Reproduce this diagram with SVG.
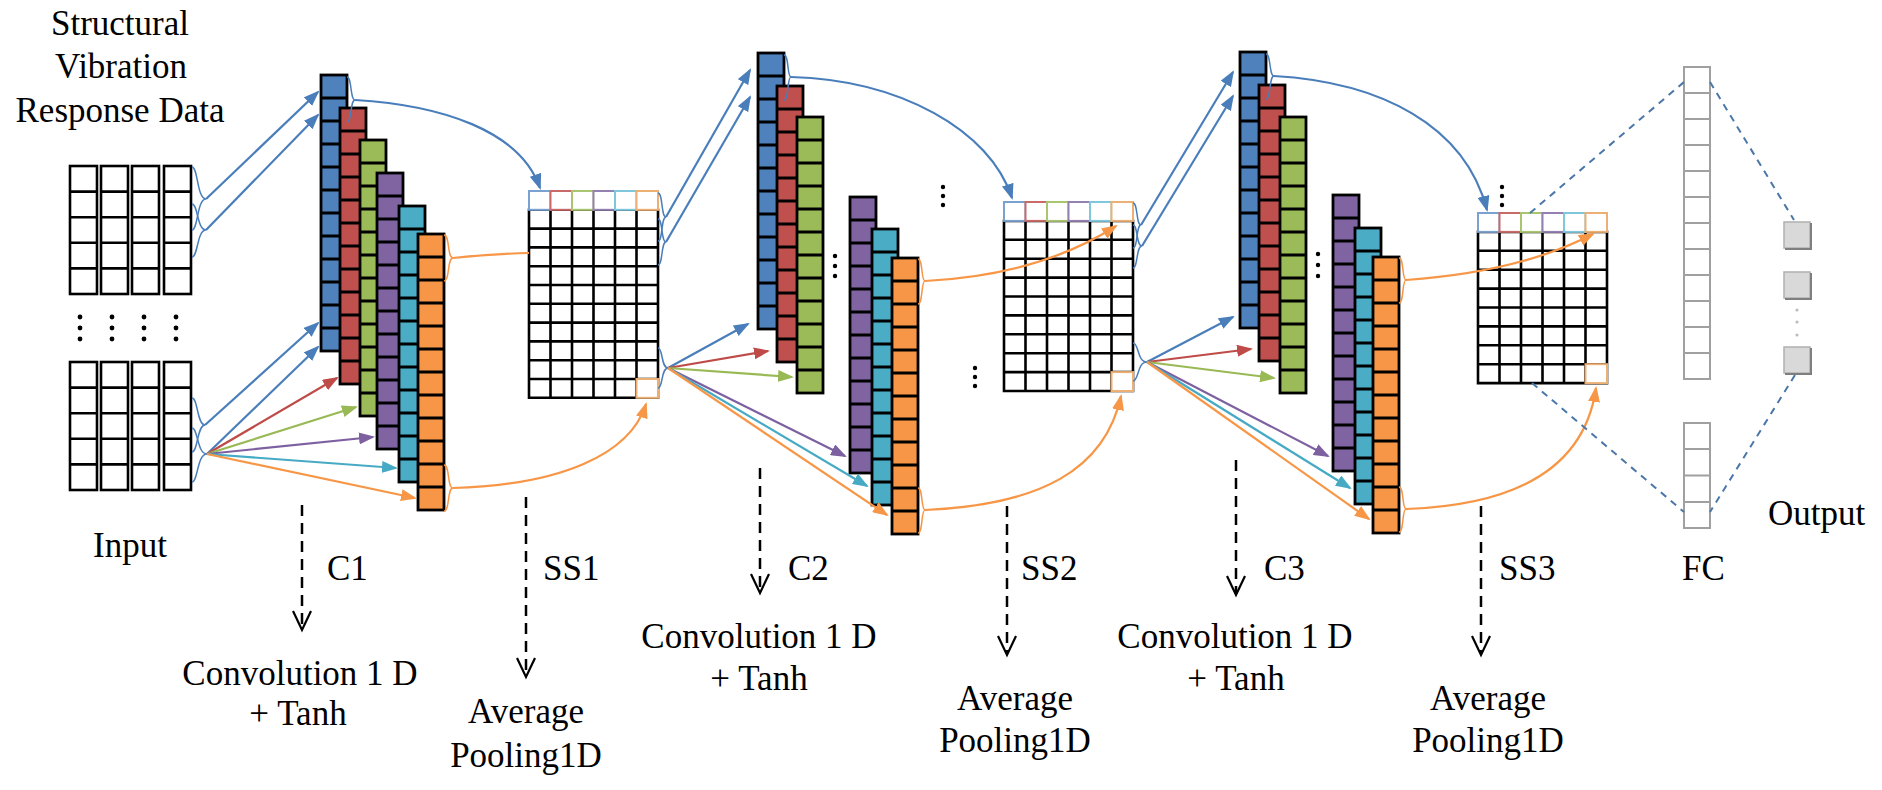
<svg xmlns="http://www.w3.org/2000/svg" xmlns:xlink="http://www.w3.org/1999/xlink" width="1882" height="790" viewBox="0 0 1882 790">
<style>
.t{font-family:"Liberation Serif","Times New Roman",serif;font-size:35px;fill:#000}
.m{text-anchor:middle}
.grid{fill:none;stroke:#000;stroke-width:2.6}
.cl{fill:none;stroke-width:2.2}
.br{fill:none;stroke-width:1.5}
.lb{stroke:#4A7EBB}.lr{stroke:#BE4B48}.lg{stroke:#98B954}.lp{stroke:#7D60A0}.lc{stroke:#46AAC5}.lo{stroke:#F79646}
.dl{fill:none;stroke:#000;stroke-width:2.5;stroke-dasharray:11 7}
.ah{fill:none;stroke:#000;stroke-width:2.2}
.fcd{fill:none;stroke:#4A77A8;stroke-width:2;stroke-dasharray:7 6}
.fc{fill:#fff;stroke:#A0A0A0;stroke-width:2}
.dot{fill:#000}
</style>
<defs>
<marker id="aB" markerWidth="16" markerHeight="12" refX="14" refY="6" orient="auto" markerUnits="userSpaceOnUse"><path d="M0,0 L16,6 L0,12 Z" fill="#4A7EBB"/></marker>
<marker id="aR" markerWidth="16" markerHeight="12" refX="14" refY="6" orient="auto" markerUnits="userSpaceOnUse"><path d="M0,0 L16,6 L0,12 Z" fill="#BE4B48"/></marker>
<marker id="aG" markerWidth="16" markerHeight="12" refX="14" refY="6" orient="auto" markerUnits="userSpaceOnUse"><path d="M0,0 L16,6 L0,12 Z" fill="#98B954"/></marker>
<marker id="aP" markerWidth="16" markerHeight="12" refX="14" refY="6" orient="auto" markerUnits="userSpaceOnUse"><path d="M0,0 L16,6 L0,12 Z" fill="#7D60A0"/></marker>
<marker id="aC" markerWidth="16" markerHeight="12" refX="14" refY="6" orient="auto" markerUnits="userSpaceOnUse"><path d="M0,0 L16,6 L0,12 Z" fill="#46AAC5"/></marker>
<marker id="aO" markerWidth="16" markerHeight="12" refX="14" refY="6" orient="auto" markerUnits="userSpaceOnUse"><path d="M0,0 L16,6 L0,12 Z" fill="#F79646"/></marker>
<g id="col" stroke="#000" stroke-width="2.8"><rect x="0" y="0" width="26" height="276"/><path fill="none" d="M0,23H26M0,46H26M0,69H26M0,92H26M0,115H26M0,138H26M0,161H26M0,184H26M0,207H26M0,230H26M0,253H26"/></g>
<g id="icol" stroke="#000" stroke-width="2.6"><rect x="0" y="0" width="27" height="128" fill="#fff"/><path fill="none" d="M0,25.6H27M0,51.2H27M0,76.8H27M0,102.4H27"/></g>
</defs>
<rect width="1882" height="790" fill="#fff"/>

<g id="title-text">
<text class="t m" x="120" y="35">Structural</text>
<text class="t m" x="121" y="78">Vibration</text>
<text class="t m" x="120" y="122">Response Data</text>
</g>

<g id="input">
<use href="#icol" x="70" y="166"/><use href="#icol" x="101" y="166"/><use href="#icol" x="132" y="166"/><use href="#icol" x="164" y="166"/>
<g class="dot"><circle cx="80" cy="317" r="2.4"/><circle cx="80" cy="328" r="2.4"/><circle cx="80" cy="339" r="2.4"/>
<circle cx="112" cy="317" r="2.4"/><circle cx="112" cy="328" r="2.4"/><circle cx="112" cy="339" r="2.4"/>
<circle cx="144" cy="317" r="2.4"/><circle cx="144" cy="328" r="2.4"/><circle cx="144" cy="339" r="2.4"/>
<circle cx="176" cy="317" r="2.4"/><circle cx="176" cy="328" r="2.4"/><circle cx="176" cy="339" r="2.4"/></g>
<use href="#icol" x="70" y="362"/><use href="#icol" x="101" y="362"/><use href="#icol" x="132" y="362"/><use href="#icol" x="164" y="362"/>
<text class="t" x="93" y="557">Input</text>
</g>

<g id="C1">
<use href="#col" x="321" y="75" fill="#4F81BD"/>
<use href="#col" x="340" y="108" fill="#C0504D"/>
<use href="#col" x="360" y="140" fill="#9BBB59"/>
<use href="#col" x="377" y="173" fill="#8064A2"/>
<use href="#col" x="399" y="206" fill="#4BACC6"/>
<use href="#col" x="418" y="234" fill="#F79646"/>
</g>

<g id="SS1">
<path class="grid" d="M529,209.8H658V397.8H529Z M529,228.6H658M529,247.4H658M529,266.2H658M529,285H658M529,303.8H658M529,322.6H658M529,341.4H658M529,360.2H658M529,379H658 M550.5,209.8V397.8M572,209.8V397.8M593.5,209.8V397.8M615,209.8V397.8M636.5,209.8V397.8"/>
<g fill="#fff" stroke-width="2">
<rect x="529" y="191" width="21.5" height="18.8" stroke="#7BA1D0"/>
<rect x="550.5" y="191" width="21.5" height="18.8" stroke="#C76A68"/>
<rect x="572" y="191" width="21.5" height="18.8" stroke="#A9C56F"/>
<rect x="593.5" y="191" width="21.5" height="18.8" stroke="#9580B2"/>
<rect x="615" y="191" width="21.5" height="18.8" stroke="#7FC7DB"/>
<rect x="636.5" y="191" width="21.5" height="18.8" stroke="#EDB074"/>
<rect x="636.5" y="379" width="21.5" height="18.8" stroke="#EDB074"/>
</g>
</g>

<g id="C2">
<use href="#col" x="758" y="53" fill="#4F81BD"/>
<use href="#col" x="777" y="86" fill="#C0504D"/>
<use href="#col" x="797" y="117" fill="#9BBB59"/>
<use href="#col" x="850" y="197" fill="#8064A2"/>
<use href="#col" x="872" y="229" fill="#4BACC6"/>
<use href="#col" x="892" y="258" fill="#F79646"/>
<g class="dot"><circle cx="835" cy="256" r="2.2"/><circle cx="835" cy="266" r="2.2"/><circle cx="835" cy="276" r="2.2"/>
<circle cx="943" cy="187" r="2.2"/><circle cx="943" cy="196" r="2.2"/><circle cx="943" cy="205" r="2.2"/>
<circle cx="975" cy="368" r="2.2"/><circle cx="975" cy="377" r="2.2"/><circle cx="975" cy="386" r="2.2"/></g>
</g>

<g id="SS2">
<path class="grid" d="M1004,220.9H1133V391H1004Z M1004,239.8H1133M1004,258.7H1133M1004,277.6H1133M1004,296.5H1133M1004,315.4H1133M1004,334.3H1133M1004,353.2H1133M1004,372.1H1133 M1025.5,220.9V391M1047,220.9V391M1068.5,220.9V391M1090,220.9V391M1111.5,220.9V391"/>
<g fill="#fff" stroke-width="2">
<rect x="1004" y="202" width="21.5" height="18.9" stroke="#7BA1D0"/>
<rect x="1025.5" y="202" width="21.5" height="18.9" stroke="#C76A68"/>
<rect x="1047" y="202" width="21.5" height="18.9" stroke="#A9C56F"/>
<rect x="1068.5" y="202" width="21.5" height="18.9" stroke="#9580B2"/>
<rect x="1090" y="202" width="21.5" height="18.9" stroke="#7FC7DB"/>
<rect x="1111.5" y="202" width="21.5" height="18.9" stroke="#EDB074"/>
<rect x="1111.5" y="372.1" width="21.5" height="18.9" stroke="#EDB074"/>
</g>
</g>

<g id="C3">
<use href="#col" x="1240" y="52" fill="#4F81BD"/>
<use href="#col" x="1259" y="85" fill="#C0504D"/>
<use href="#col" x="1280" y="117" fill="#9BBB59"/>
<use href="#col" x="1333" y="195" fill="#8064A2"/>
<use href="#col" x="1355" y="228" fill="#4BACC6"/>
<use href="#col" x="1373" y="257" fill="#F79646"/>
<g class="dot"><circle cx="1318" cy="254" r="2.2"/><circle cx="1318" cy="265" r="2.2"/><circle cx="1318" cy="276" r="2.2"/>
<circle cx="1502" cy="187" r="2.2"/><circle cx="1502" cy="196" r="2.2"/><circle cx="1502" cy="205" r="2.2"/></g>
</g>

<g id="SS3">
<path class="grid" d="M1478,231.9H1607V383.1H1478Z M1478,250.8H1607M1478,269.7H1607M1478,288.6H1607M1478,307.5H1607M1478,326.4H1607M1478,345.3H1607M1478,364.2H1607 M1499.5,231.9V383.1M1521,231.9V383.1M1542.5,231.9V383.1M1564,231.9V383.1M1585.5,231.9V383.1"/>
<g fill="#fff" stroke-width="2">
<rect x="1478" y="213" width="21.5" height="18.9" stroke="#7BA1D0"/>
<rect x="1499.5" y="213" width="21.5" height="18.9" stroke="#C76A68"/>
<rect x="1521" y="213" width="21.5" height="18.9" stroke="#A9C56F"/>
<rect x="1542.5" y="213" width="21.5" height="18.9" stroke="#9580B2"/>
<rect x="1564" y="213" width="21.5" height="18.9" stroke="#7FC7DB"/>
<rect x="1585.5" y="213" width="21.5" height="18.9" stroke="#EDB074"/>
<rect x="1585.5" y="364.2" width="21.5" height="18.9" stroke="#EDB074"/>
</g>
</g>

<g id="FC">
<rect class="fc" x="1684" y="67" width="26" height="312"/>
<path class="fc" d="M1684,93H1710M1684,119H1710M1684,145H1710M1684,171H1710M1684,197H1710M1684,223H1710M1684,249H1710M1684,275H1710M1684,301H1710M1684,327H1710M1684,353H1710"/>
<rect class="fc" x="1684" y="423" width="26" height="105"/>
<path class="fc" d="M1684,449H1710M1684,475.5H1710M1684,502H1710"/>
</g>

<g id="output">
<g fill="#D9D9D9" stroke="#B0B0B0" stroke-width="1.5">
<rect x="1784" y="222" width="26" height="26"/>
<rect x="1784" y="272" width="26" height="26"/>
<rect x="1784" y="347" width="26" height="26"/>
</g>
<path fill="none" stroke="#7F7F7F" stroke-width="2" d="M1811,223V249H1785 M1811,273V299H1785 M1811,348V374H1785"/>
<g fill="#BDBDBD"><circle cx="1797" cy="310" r="1.6"/><circle cx="1797" cy="322" r="1.6"/><circle cx="1797" cy="335" r="1.6"/></g>
<text class="t" x="1768" y="525">Output</text>
</g>

<g id="connectors">
<!-- input to C1 -->
<path class="br lb" d="M192,167 C198,167 197,199 206,199 C197,199 198,230 192,230"/>
<path class="br lb" d="M192,204 C198,204 197,230 206,230 C197,230 198,257 192,257"/>
<path class="br lb" d="M192,398 C198,398 197,425 205,425 C197,425 198,452 192,452"/>
<path class="br lb" d="M192,428 C198,428 197,454 207,454 C197,454 198,482 192,482"/>
<path class="cl lb" d="M206,199 L318,92" marker-end="url(#aB)"/>
<path class="cl lb" d="M206,230 L318,115" marker-end="url(#aB)"/>
<path class="cl lb" d="M205,425 L318,323" marker-end="url(#aB)"/>
<path class="cl lb" d="M207,454 L318,347" marker-end="url(#aB)"/>
<path class="cl lr" d="M207,454 L337,378" marker-end="url(#aR)"/>
<path class="cl lg" d="M207,454 L356,407" marker-end="url(#aG)"/>
<path class="cl lp" d="M207,454 L373,437" marker-end="url(#aP)"/>
<path class="cl lc" d="M207,454 L396,468" marker-end="url(#aC)"/>
<path class="cl lo" d="M207,454 L415,498" marker-end="url(#aO)"/>
<!-- C1 to SS1 -->
<path class="br lb" d="M347,77 C352,77 350,100 355,100 C350,100 352,122 347,122"/>
<path class="cl lb" d="M355,100 C440,105 520,130 540,188" marker-end="url(#aB)"/>
<path class="br lo" d="M444,235 C450,235 447,258 453,258 C447,258 450,281 444,281"/>
<path class="cl lo" d="M453,258 Q490,254 529,253"/>
<path class="br lo" d="M444,465 C450,465 447,488 453,488 C447,488 450,511 444,511"/>
<path class="cl lo" d="M453,488 C560,485 630,455 646,404" marker-end="url(#aO)"/>
<!-- SS1 to C2 -->
<path class="br lb" d="M658,193 C663,193 661,217 666,217 C661,217 663,241 658,241"/>
<path class="br lb" d="M658,219 C663,219 661,242 666,242 C661,242 663,265 658,265"/>
<path class="br lb" d="M658,348 C663,348 661,368 668,368 C661,368 663,388 658,388"/>
<path class="cl lb" d="M666,217 L750,70" marker-end="url(#aB)"/>
<path class="cl lb" d="M666,242 L750,97" marker-end="url(#aB)"/>
<path class="cl lb" d="M668,368 L748,324" marker-end="url(#aB)"/>
<path class="cl lr" d="M668,368 L768,351" marker-end="url(#aR)"/>
<path class="cl lg" d="M668,368 L792,377" marker-end="url(#aG)"/>
<path class="cl lp" d="M668,368 L845,456" marker-end="url(#aP)"/>
<path class="cl lc" d="M668,368 L867,486" marker-end="url(#aC)"/>
<path class="cl lo" d="M668,368 L887,515" marker-end="url(#aO)"/>
<!-- C2 to SS2 -->
<path class="br lb" d="M784,55 C789,55 787,77 791,77 C787,77 789,100 784,100"/>
<path class="cl lb" d="M791,77 C900,80 990,130 1012,198" marker-end="url(#aB)"/>
<path class="br lo" d="M918,259 C923,259 921,281 925,281 C921,281 923,304 918,304"/>
<path class="cl lo" d="M925,281 Q1040,275 1116,226" marker-end="url(#aO)"/>
<path class="br lo" d="M918,488 C923,488 921,510 925,510 C921,510 923,533 918,533"/>
<path class="cl lo" d="M925,510 C1040,505 1105,470 1121,396" marker-end="url(#aO)"/>
<!-- SS2 to C3 -->
<path class="br lb" d="M1133,203 C1138,203 1136,225 1141,225 C1136,225 1138,248 1133,248"/>
<path class="br lb" d="M1133,225 C1138,225 1136,246 1142,246 C1136,246 1138,268 1133,268"/>
<path class="br lb" d="M1133,343 C1139,343 1137,362 1147,362 C1137,362 1139,381 1133,381"/>
<path class="cl lb" d="M1141,225 L1233,72" marker-end="url(#aB)"/>
<path class="cl lb" d="M1142,246 L1233,96" marker-end="url(#aB)"/>
<path class="cl lb" d="M1147,362 L1233,317" marker-end="url(#aB)"/>
<path class="cl lr" d="M1147,362 L1251,349" marker-end="url(#aR)"/>
<path class="cl lg" d="M1147,362 L1274,378" marker-end="url(#aG)"/>
<path class="cl lp" d="M1147,362 L1328,456" marker-end="url(#aP)"/>
<path class="cl lc" d="M1147,362 L1350,488" marker-end="url(#aC)"/>
<path class="cl lo" d="M1147,362 L1369,519" marker-end="url(#aO)"/>
<!-- C3 to SS3 -->
<path class="br lb" d="M1266,54 C1271,54 1269,76 1274,76 C1269,76 1271,99 1266,99"/>
<path class="cl lb" d="M1274,76 C1380,82 1465,125 1487,210" marker-end="url(#aB)"/>
<path class="br lo" d="M1399,258 C1404,258 1402,280 1406,280 C1402,280 1404,303 1399,303"/>
<path class="cl lo" d="M1406,280 Q1520,272 1593,234" marker-end="url(#aO)"/>
<path class="br lo" d="M1399,487 C1404,487 1402,509 1406,509 C1402,509 1404,532 1399,532"/>
<path class="cl lo" d="M1406,509 C1520,505 1585,465 1596,388" marker-end="url(#aO)"/>
<!-- SS3 to FC to output -->
<path class="fcd" d="M1530,213 L1684,82"/>
<path class="fcd" d="M1532,383 L1684,512"/>
<path class="fcd" d="M1710,82 L1794,220"/>
<path class="fcd" d="M1795,375 L1710,512"/>
</g>

<g id="labels">
<path class="dl" d="M302,505V628"/><path class="ah" d="M293,611L302,630L311,611"/>
<path class="dl" d="M526,497V675"/><path class="ah" d="M517,658L526,677L535,658"/>
<path class="dl" d="M760,468V591"/><path class="ah" d="M751,574L760,593L769,574"/>
<path class="dl" d="M1007,506V653"/><path class="ah" d="M998,636L1007,655L1016,636"/>
<path class="dl" d="M1236,460V593"/><path class="ah" d="M1227,576L1236,595L1245,576"/>
<path class="dl" d="M1481,506V653"/><path class="ah" d="M1472,636L1481,655L1490,636"/>
<text class="t" x="327" y="580">C1</text>
<text class="t" x="543" y="580">SS1</text>
<text class="t" x="788" y="580">C2</text>
<text class="t" x="1021" y="580">SS2</text>
<text class="t" x="1264" y="580">C3</text>
<text class="t" x="1499" y="580">SS3</text>
<text class="t" x="1682" y="580">FC</text>
<text class="t m" x="300" y="685">Convolution 1 D</text>
<text class="t m" x="298" y="725">+ Tanh</text>
<text class="t m" x="526" y="723">Average</text>
<text class="t m" x="526" y="767">Pooling1D</text>
<text class="t m" x="759" y="648">Convolution 1 D</text>
<text class="t m" x="759" y="690">+ Tanh</text>
<text class="t m" x="1015" y="710">Average</text>
<text class="t m" x="1015" y="752">Pooling1D</text>
<text class="t m" x="1235" y="648">Convolution 1 D</text>
<text class="t m" x="1236" y="690">+ Tanh</text>
<text class="t m" x="1488" y="710">Average</text>
<text class="t m" x="1488" y="752">Pooling1D</text>
</g>
</svg>
